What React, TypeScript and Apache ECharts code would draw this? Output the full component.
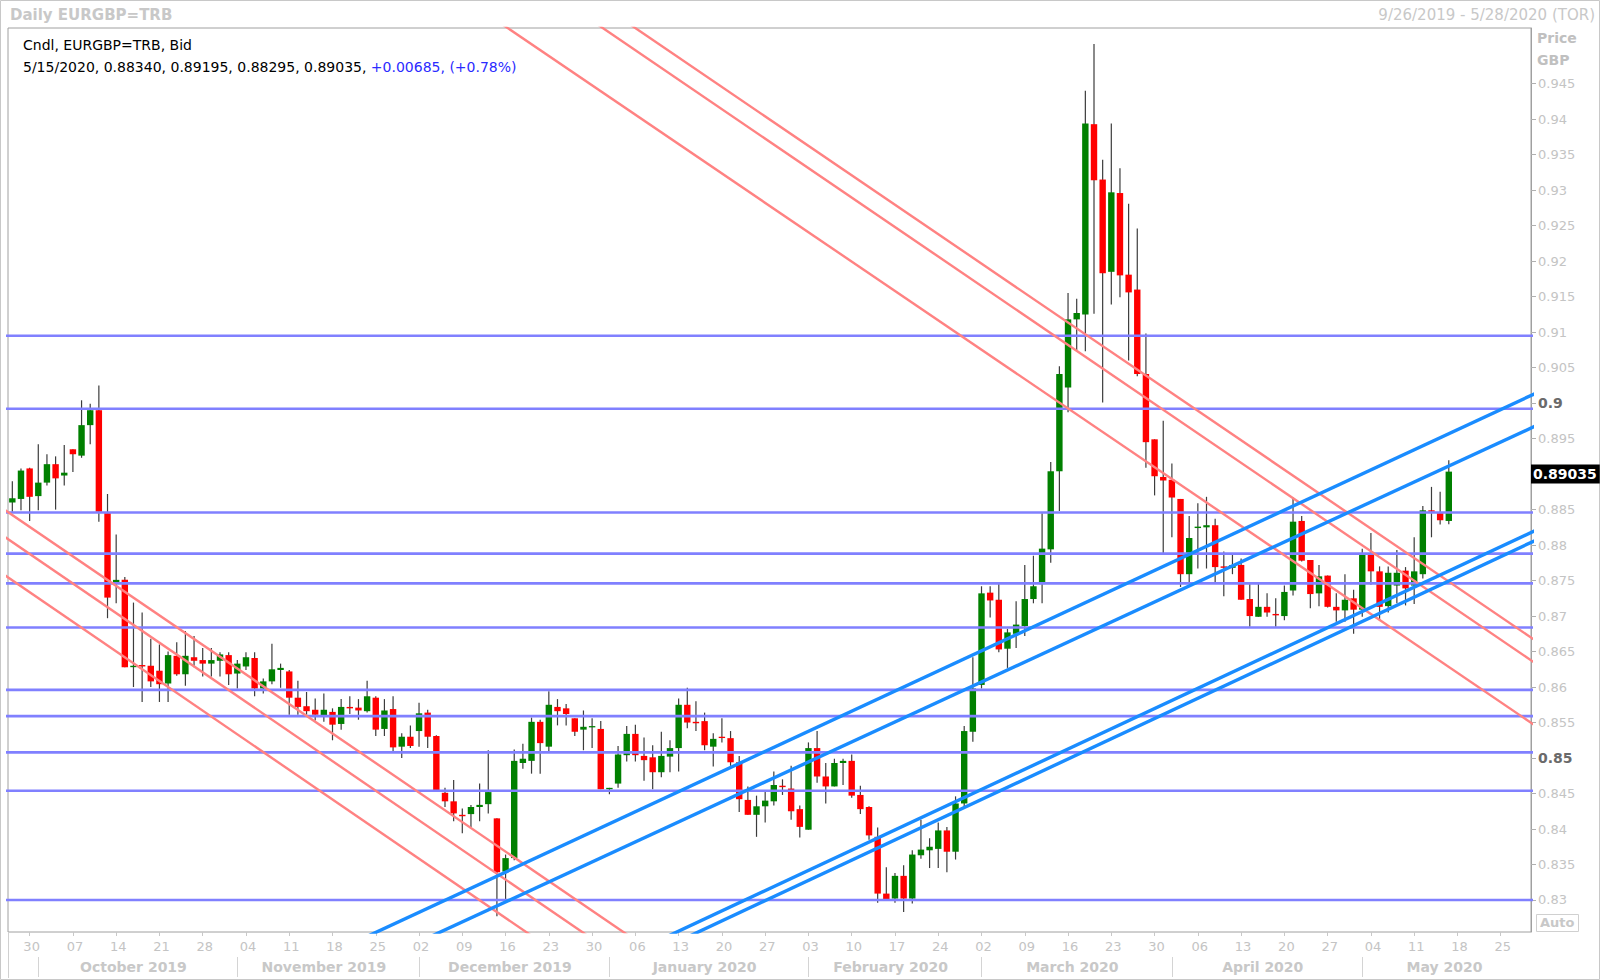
import React, { useEffect, useRef } from "react";
import * as echarts from "echarts";

const FONT = '"DejaVu Sans", Verdana, sans-serif';

// ---- categories (weekdays shown on the time axis) ----
const START_DAY = "2019-09-26";
const END_DAY = "2020-05-28";
function buildDays(start: string, end: string): string[] {
  const out: string[] = [];
  const d = new Date(start + "T00:00:00Z");
  const e = new Date(end + "T00:00:00Z");
  while (d <= e) {
    const wd = d.getUTCDay();
    if (wd !== 0 && wd !== 6) out.push(d.toISOString().slice(0, 10));
    d.setUTCDate(d.getUTCDate() + 1);
  }
  return out;
}
const categories = buildDays(START_DAY, END_DAY);

const MONTH_KEYS = ["2019-10", "2019-11", "2019-12", "2020-01", "2020-02", "2020-03", "2020-04", "2020-05"];
const MONTH_NAMES = ["October 2019", "November 2019", "December 2019", "January 2020", "February 2020", "March 2020", "April 2020", "May 2020"];

// ---- OHLC values (daily EURGBP, 26 Sep 2019 – 15 May 2020) ----
const opens = [0.8860,0.8865,0.8908,0.8869,0.8888,0.8914,0.8898,0.8935,0.8926,0.8969,
0.8990,0.8845,0.8746,0.8751,0.8628,0.8631,0.8630,0.8623,0.8605,0.8644,
0.8618,0.8642,0.8638,0.8633,0.8637,0.8645,0.8619,0.8629,0.8641,0.8598,
0.8608,0.8624,0.8622,0.8585,0.8573,0.8568,0.8558,0.8565,0.8548,0.8572,
0.8571,0.8566,0.8585,0.8541,0.8569,0.8516,0.8530,0.8538,0.8564,0.8531,
0.8451,0.8439,0.8420,0.8421,0.8431,0.8435,0.8415,0.8340,0.8359,0.8493,
0.8496,0.8551,0.8516,0.8572,0.8570,0.8556,0.8540,0.8544,0.8541,0.8456,
0.8464,0.8504,0.8534,0.8503,0.8501,0.8480,0.8502,0.8514,0.8575,0.8551,
0.8552,0.8516,0.8530,0.8528,0.8494,0.8441,0.8420,0.8432,0.8439,0.8461,
0.8457,0.8428,0.8399,0.8514,0.8474,0.8460,0.8493,0.8496,0.8448,0.8431,
0.8389,0.8309,0.8302,0.8334,0.8302,0.8363,0.8370,0.8372,0.8398,0.8368,
0.8436,0.8537,0.8603,0.8733,0.8723,0.8654,0.8675,0.8686,0.8724,0.8745,
0.8794,0.8904,0.9022,0.9118,0.9125,0.9393,0.9315,0.9185,0.9296,0.9181,
0.9160,0.9041,0.8949,0.8896,0.8892,0.8865,0.8759,0.8824,0.8825,0.8828,
0.8770,0.8768,0.8772,0.8724,0.8699,0.8713,0.8703,0.8700,0.8736,0.8834,
0.8779,0.8732,0.8757,0.8713,0.8708,0.8725,0.8709,0.8786,0.8763,0.8714,
0.8743,0.8764,0.8743,0.8759,0.8849,0.8845,0.88340];

const highs = [0.8890,0.8908,0.8909,0.8942,0.8928,0.8925,0.8941,0.8935,0.9004,0.8999,
0.9025,0.8872,0.8815,0.8755,0.8719,0.8705,0.8668,0.8660,0.8650,0.8663,
0.8679,0.8672,0.8655,0.8655,0.8649,0.8649,0.8638,0.8649,0.8649,0.8612,
0.8661,0.8633,0.8624,0.8609,0.8593,0.8584,0.8591,0.8570,0.8583,0.8587,
0.8583,0.8609,0.8587,0.8583,0.8587,0.8535,0.8546,0.8578,0.8568,0.8532,
0.8458,0.8469,0.8429,0.8434,0.8464,0.8511,0.8415,0.8364,0.8512,0.8520,
0.8557,0.8554,0.8594,0.8583,0.8576,0.8556,0.8567,0.8556,0.8552,0.8458,
0.8517,0.8545,0.8547,0.8529,0.8518,0.8537,0.8525,0.8584,0.8599,0.8580,
0.8564,0.8535,0.8556,0.8538,0.8503,0.8460,0.8447,0.8452,0.8481,0.8470,
0.8489,0.8433,0.8522,0.8538,0.8493,0.8499,0.8499,0.8505,0.8461,0.8432,
0.8402,0.8346,0.8338,0.8349,0.8370,0.8413,0.8387,0.8409,0.8403,0.8446,
0.8545,0.8642,0.8742,0.8742,0.8747,0.8682,0.8721,0.8772,0.8785,0.8845,
0.8917,0.9052,0.9155,0.9147,0.9440,0.9506,0.9343,0.9394,0.9331,0.9281,
0.9246,0.9098,0.8949,0.8975,0.8915,0.8865,0.8841,0.8859,0.8868,0.8837,
0.8791,0.8786,0.8781,0.8748,0.8748,0.8732,0.8725,0.8743,0.8867,0.8841,
0.8779,0.8772,0.8757,0.8732,0.8759,0.8737,0.8795,0.8817,0.8770,0.8770,
0.8793,0.8769,0.8811,0.8855,0.8882,0.8875,0.89195];

const lows = [0.8847,0.8849,0.8834,0.8849,0.8884,0.8850,0.8884,0.8903,0.8923,0.8942,
0.8833,0.8697,0.8718,0.8628,0.8600,0.8579,0.8600,0.8579,0.8579,0.8616,
0.8602,0.8628,0.8615,0.8615,0.8615,0.8603,0.8598,0.8624,0.8587,0.8591,
0.8604,0.8599,0.8561,0.8561,0.8561,0.8553,0.8551,0.8525,0.8540,0.8562,
0.8554,0.8564,0.8531,0.8531,0.8510,0.8500,0.8514,0.8516,0.8514,0.8455,
0.8431,0.8411,0.8394,0.8403,0.8411,0.8422,0.8277,0.8300,0.8356,0.8485,
0.8478,0.8478,0.8509,0.8546,0.8546,0.8531,0.8511,0.8514,0.8456,0.8449,
0.8458,0.8495,0.8495,0.8468,0.8456,0.8473,0.8480,0.8481,0.8542,0.8538,
0.8511,0.8488,0.8522,0.8489,0.8424,0.8420,0.8389,0.8409,0.8433,0.8448,
0.8413,0.8388,0.8399,0.8465,0.8436,0.8460,0.8462,0.8444,0.8421,0.8385,
0.8296,0.8300,0.8296,0.8283,0.8295,0.8358,0.8345,0.8345,0.8339,0.8357,
0.8429,0.8523,0.8598,0.8698,0.8649,0.8627,0.8655,0.8672,0.8718,0.8718,
0.8775,0.8848,0.8987,0.9075,0.9073,0.9126,0.9001,0.9139,0.9149,0.9060,
0.9038,0.8909,0.8870,0.8786,0.8811,0.8741,0.8746,0.8767,0.8767,0.8748,
0.8728,0.8759,0.8723,0.8685,0.8699,0.8699,0.8685,0.8694,0.8729,0.8777,
0.8711,0.8714,0.8712,0.8692,0.8692,0.8675,0.8699,0.8744,0.8694,0.8705,
0.8718,0.8715,0.8717,0.8753,0.8811,0.8829,0.88295];

const closes = [0.8866,0.8905,0.8868,0.8888,0.8914,0.8894,0.8902,0.8928,0.8969,0.8990,
0.8847,0.8726,0.8751,0.8628,0.8630,0.8629,0.8608,0.8604,0.8645,0.8618,
0.8644,0.8637,0.8633,0.8638,0.8646,0.8618,0.8633,0.8642,0.8598,0.8608,
0.8625,0.8627,0.8585,0.8572,0.8566,0.8561,0.8568,0.8547,0.8572,0.8570,
0.8567,0.8587,0.8540,0.8567,0.8515,0.8530,0.8517,0.8563,0.8530,0.8455,
0.8439,0.8422,0.8418,0.8431,0.8434,0.8452,0.8339,0.8359,0.8496,0.8499,
0.8551,0.8521,0.8575,0.8566,0.8562,0.8537,0.8544,0.8545,0.8456,0.8458,
0.8505,0.8534,0.8504,0.8497,0.8480,0.8503,0.8514,0.8575,0.8550,0.8549,
0.8518,0.8527,0.8529,0.8494,0.8442,0.8420,0.8432,0.8440,0.8462,0.8459,
0.8425,0.8403,0.8514,0.8474,0.8460,0.8493,0.8496,0.8447,0.8428,0.8391,
0.8309,0.8301,0.8334,0.8302,0.8364,0.8371,0.8375,0.8398,0.8368,0.8436,
0.8538,0.8598,0.8732,0.8722,0.8653,0.8677,0.8688,0.8724,0.8742,0.8795,
0.8904,0.9041,0.9118,0.9127,0.9394,0.9314,0.9183,0.9297,0.9180,0.9156,
0.9041,0.8945,0.8897,0.8891,0.8867,0.8759,0.8810,0.8826,0.8828,0.8769,
0.8768,0.8772,0.8723,0.8700,0.8713,0.8705,0.8701,0.8734,0.8833,0.8778,
0.8731,0.8756,0.8713,0.8708,0.8723,0.8709,0.8786,0.8763,0.8713,0.8761,
0.8761,0.8739,0.8763,0.8849,0.8847,0.8835,0.89035];

// ---- horizontal support / resistance levels ----
const levels = [0.9095, 0.8992, 0.8846, 0.8788, 0.8746, 0.8684, 0.8596, 0.8559, 0.8508, 0.8454, 0.8300];

// ---- trend lines: [[index, price], [index, price]] ----
const redLines = [
  [[70, 0.9545], [178, 0.8649]],
  [[66, 0.9547], [178, 0.8617]],
  [[55, 0.9547], [178, 0.8529]],
  [[-2, 0.8859], [73, 0.8235]],
  [[-2, 0.8821], [68, 0.8237]],
  [[-2, 0.8767], [62, 0.8233]],
];
const blueLines = [
  [[40, 0.8243], [178, 0.9025]],
  [[47, 0.8241], [178, 0.8979]],
  [[74, 0.8239], [178, 0.8832]],
  [[77, 0.8242], [178, 0.8818]],
];

// ---- axis ----
const Y_MIN = 0.82549;
const Y_MAX = 0.95285;
// "0.89" is hidden behind the last-price box in the reference
const Y_TICKS = ["0.83","0.835","0.84","0.845","0.85","0.855","0.86","0.865","0.87","0.875","0.88","0.885","0.895","0.9","0.905","0.91","0.915","0.92","0.925","0.93","0.935","0.94","0.945"];
const Y_BOLD = ["0.85", "0.9"];
const LAST_PRICE = "0.89035";

export default function App() {
  const ref = useRef<HTMLDivElement>(null);

  useEffect(() => {
    if (!ref.current) return;
    const chart = echarts.init(ref.current, undefined, { renderer: "svg" });
    const N = categories.length;
    const isMonday = (_i: number, v: string) => new Date(v + "T00:00:00Z").getUTCDay() === 1;

    const monthStarts: number[] = [];
    const monthMids: number[] = [];
    MONTH_KEYS.forEach((k) => {
      let first = -1, last = -1;
      categories.forEach((c, i) => { if (c.startsWith(k)) { if (first < 0) first = i; last = i; } });
      monthStarts.push(first);
      monthMids.push((first + last) / 2);
    });

    const candleData = opens.map((o, i) => [i, o, closes[i], lows[i], highs[i]]);

    const lineSeries = (pts: number[][], color: string, width: number, z: number, extra: any = {}) => ({
      type: "line",
      xAxisIndex: 1,
      data: pts,
      showSymbol: false,
      symbol: "none",
      silent: true,
      clip: true,
      z,
      lineStyle: { color, width },
      ...extra,
    });

    const series: any[] = [
      {
        type: "custom",
        name: "EURGBP",
        xAxisIndex: 0,
        clip: true,
        z: 2,
        encode: { x: 0, y: [1, 2, 3, 4] },
        data: candleData,
        renderItem: (_p: any, api: any) => {
          const i = api.value(0);
          const o = api.value(1), c = api.value(2), l = api.value(3), h = api.value(4);
          const pH = api.coord([i, h]);
          const pL = api.coord([i, l]);
          const pO = api.coord([i, o]);
          const pC = api.coord([i, c]);
          const bw = api.size([1, 0])[0] * 0.74;
          const top = Math.min(pO[1], pC[1]);
          const bot = Math.max(pO[1], pC[1]);
          const x = pO[0];
          return {
            type: "group",
            children: [
              { type: "line", shape: { x1: x, y1: pH[1], x2: x, y2: pL[1] }, style: { stroke: "#3c3c3c", lineWidth: 1.2 } },
              { type: "rect", shape: { x: x - bw / 2, y: top, width: bw, height: Math.max(bot - top, 1.3) }, style: { fill: c >= o ? "#008000" : "#ff0000" } },
            ],
          };
        },
      },
    ];
    levels.forEach((v) => series.push(lineSeries([[-2, v], [178, v]], "#8080ff", 2.6, 3)));
    redLines.forEach((pts) => series.push(lineSeries(pts, "#ff8282", 2.4, 4)));
    blueLines.forEach((pts, k) =>
      series.push(
        lineSeries(pts, "#1a8cff", 3.4, 5, k === 0 ? {
          markLine: {
            silent: true,
            symbol: "none",
            z: 10,
            lineStyle: { color: "rgba(0,0,0,0)", width: 0, type: "solid" },
            data: [{ yAxis: Number(LAST_PRICE) }],
            label: {
              show: true,
              position: "end",
              distance: 0,
              formatter: LAST_PRICE,
              backgroundColor: "#000000",
              color: "#ffffff",
              opacity: 1,
              fontWeight: "bold",
              fontSize: 14,
              fontFamily: FONT,
              padding: [3, 3, 2, 2],
            },
          },
        } : {})
      )
    );

    const option: any = {
      animation: false,
      backgroundColor: "#ffffff",
      grid: { left: 8, top: 28, width: 1523, height: 904, show: true, borderColor: "#a0a0a0", borderWidth: 1, backgroundColor: "transparent" },
      xAxis: [
        {
          type: "category",
          data: categories,
          boundaryGap: true,
          axisLine: { show: false, onZero: false },
          splitLine: { show: false },
          axisTick: { show: true, interval: isMonday, alignWithLabel: true, length: 4, lineStyle: { color: "#c8c8c8" } },
          axisLabel: { interval: isMonday, formatter: (v: string) => v.slice(8, 10), color: "#c4c4c4", fontSize: 13, fontFamily: FONT, margin: 8, padding: [0, 0, 0, 4] },
        },
        { type: "value", min: -0.5, max: N - 0.5, show: false, axisLine: { onZero: false } },
        {
          type: "value",
          min: -0.5,
          max: N - 0.5,
          position: "bottom",
          offset: 25,
          axisLine: { show: false, onZero: false },
          splitLine: { show: false },
          axisTick: { show: true, customValues: monthStarts, length: 20, lineStyle: { color: "#d4d4d4" } },
          axisLabel: {
            customValues: monthMids,
            formatter: (v: number) => { const k = monthMids.findIndex((m) => Math.abs(m - v) < 1e-6); return k >= 0 ? MONTH_NAMES[k] : ""; },
            color: "#c8c8c8",
            fontWeight: "bold",
            fontSize: 14,
            fontFamily: FONT,
            margin: 3,
          },
        },
      ],
      yAxis: [
        {
          type: "value",
          position: "right",
          min: Y_MIN,
          max: Y_MAX,
          splitLine: { show: false },
          axisLine: { show: true, onZero: false, lineStyle: { color: "#a0a0a0" } },
          axisTick: { show: true, customValues: Y_TICKS.map(Number), length: 5, lineStyle: { color: "#b0b0b0" } },
          axisLabel: {
            customValues: Y_TICKS.map(Number),
            margin: 7,
            color: "#c4c4c4",
            fontSize: 13,
            fontFamily: FONT,
            formatter: (v: number) => {
              const s = Y_TICKS.find((t) => Math.abs(Number(t) - v) < 1e-7) ?? String(v);
              return Y_BOLD.includes(s) ? `{b|${s}}` : s;
            },
            rich: { b: { fontWeight: "bold", color: "#6a6a6a", fontSize: 14, fontFamily: FONT } },
          },
        },
      ],
      graphic: [
        { type: "rect", shape: { x: 0.5, y: 0.5, width: 1599, height: 979 }, style: { fill: "none", stroke: "#c8c8c8", lineWidth: 1 }, silent: true },
        { type: "line", shape: { x1: 8.5, y1: 932, x2: 8.5, y2: 978 }, style: { stroke: "#d0d0d0", lineWidth: 1 }, silent: true },
        { type: "text", left: 10, top: 7, style: { text: "Daily EURGBP=TRB", fontFamily: FONT, fontSize: 15, fontWeight: "bold", fill: "#c8c8c8" } },
        { type: "text", right: 5, top: 7, style: { text: "9/26/2019 - 5/28/2020 (TOR)", fontFamily: FONT, fontSize: 15, fill: "#c8c8c8" } },
        { type: "text", left: 23, top: 38, style: { text: "Cndl, EURGBP=TRB, Bid", fontFamily: FONT, fontSize: 14, fill: "#000" } },
        {
          type: "text",
          left: 23,
          top: 60,
          style: {
            text: "{k|5/15/2020, 0.88340, 0.89195, 0.88295, 0.89035, }{b|+0.00685, (+0.78%)}",
            fontFamily: FONT,
            fontSize: 14,
            rich: {
              k: { fill: "#000", fontFamily: FONT, fontSize: 14 },
              b: { fill: "#2b2bff", fontFamily: FONT, fontSize: 14 },
            },
          },
        },
        { type: "text", left: 1537, top: 31, style: { text: "Price", fontFamily: FONT, fontSize: 14, fontWeight: "bold", fill: "#c0c0c0" } },
        { type: "text", left: 1537, top: 53, style: { text: "GBP", fontFamily: FONT, fontSize: 14, fontWeight: "bold", fill: "#c0c0c0" } },
        { type: "rect", shape: { x: 1536.5, y: 914.5, width: 42, height: 17 }, style: { fill: "#fff", stroke: "#d0d0d0", lineWidth: 1 } },
        { type: "text", left: 1540, top: 916, style: { text: "Auto", fontFamily: FONT, fontSize: 13, fontWeight: "bold", fill: "#c8c8c8" } },
      ],
      series,
    };

    chart.setOption(option);
    return () => chart.dispose();
  }, []);

  return (
    <div
      ref={ref}
      style={{ position: "absolute", left: 0, top: 0, width: 1600, height: 980, background: "#fff" }}
    />
  );
}
